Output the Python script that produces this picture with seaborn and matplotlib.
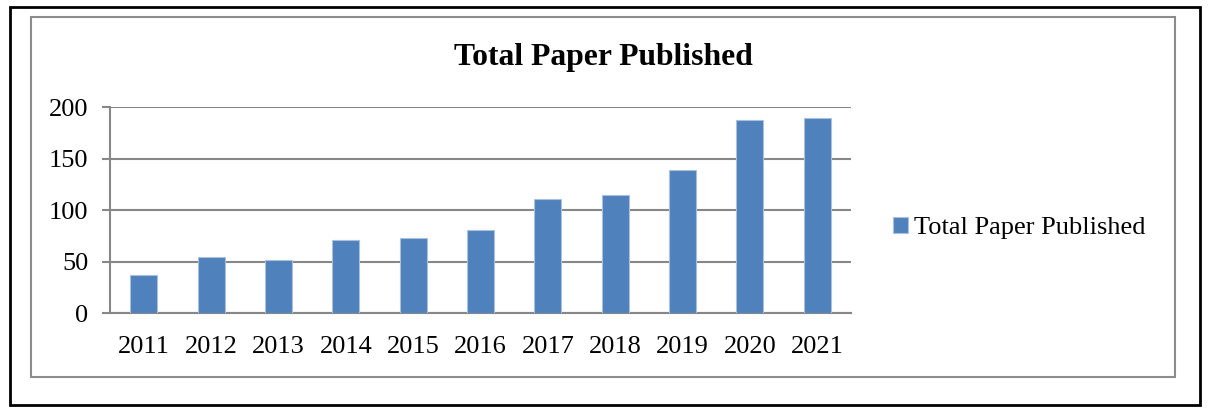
import matplotlib.pyplot as plt
import seaborn as sns
import numpy as np
from matplotlib.patches import Rectangle
from matplotlib.ticker import FixedLocator

years = ["2011", "2012", "2013", "2014", "2015", "2016", "2017", "2018", "2019", "2020", "2021"]
papers = [37, 55, 52, 71, 73, 81, 111, 115, 139, 188, 190]
series_name = "Total Paper Published"
y_ticks = [0, 50, 100, 150, 200]

sns.set_style("white")
plt.rcParams['font.family'] = ['Liberation Serif', 'DejaVu Serif']
plt.rcParams['text.color'] = 'black'
plt.rcParams['xtick.labelcolor'] = 'black'
plt.rcParams['ytick.labelcolor'] = 'black'

fig = plt.figure(figsize=(12.08, 4.08), dpi=100)
ax = fig.add_axes([110 / 1208, 1 - 313.3 / 408, 741 / 1208, 206 / 408])

bar_color = "#4F81BD"
grid_color = "#878787"

sns.barplot(x=years, y=papers, color=bar_color, saturation=1, width=0.4, ax=ax,
            edgecolor="#a9c1df", linewidth=0.8, label=series_name, zorder=3)
if ax.get_legend() is not None:
    ax.get_legend().remove()

ax.set_ylim(0, 200)
ax.set_yticks(y_ticks)
ax.set_xlim(-0.5, len(years) - 0.5)
ax.yaxis.grid(True, color=grid_color, linewidth=1.5, zorder=0)
ax.set_axisbelow(True)

for side in ['top', 'right']:
    ax.spines[side].set_visible(False)
for side in ['left', 'bottom']:
    ax.spines[side].set_color(grid_color)
    ax.spines[side].set_linewidth(1.5)

# 刻度线在类别之间
ax.xaxis.set_minor_locator(FixedLocator(np.arange(-0.5, len(years), 1.0)))
ax.tick_params(axis='x', which='major', length=0, pad=16, labelsize=19)
ax.tick_params(axis='x', which='minor', length=5.5, width=1.5, color=grid_color, direction='out')
ax.tick_params(axis='y', which='major', length=5.5, width=1.5, color=grid_color,
               direction='out', pad=10, labelsize=19, left=True)
ax.set_xlabel("")
ax.set_ylabel("")

fig.text(603 / 1208, 1 - 57 / 408, series_name, ha='center', va='center',
         fontsize=22.8, fontweight='bold', color='black')

handles, labels = ax.get_legend_handles_labels()
fig.legend(handles, labels, loc='center left', bbox_to_anchor=(880 / 1208, 1 - 228 / 408),
           frameon=False, fontsize=19, handlelength=0.55, handleheight=0.55,
           handletextpad=0.25, borderpad=0, labelcolor='black')

# 内框和外框
fig.patches.append(Rectangle((31 / 1208, 1 - 377 / 408), (1175 - 31) / 1208, (377 - 17) / 408,
                             transform=fig.transFigure, fill=False, edgecolor="#8c8c8c", linewidth=1.5))
fig.patches.append(Rectangle((10 / 1208, 1 - 405 / 408), (1200 - 10) / 1208, (405 - 7) / 408,
                             transform=fig.transFigure, fill=False, edgecolor="black", linewidth=2))

fig.savefig("out.png", dpi=100)
